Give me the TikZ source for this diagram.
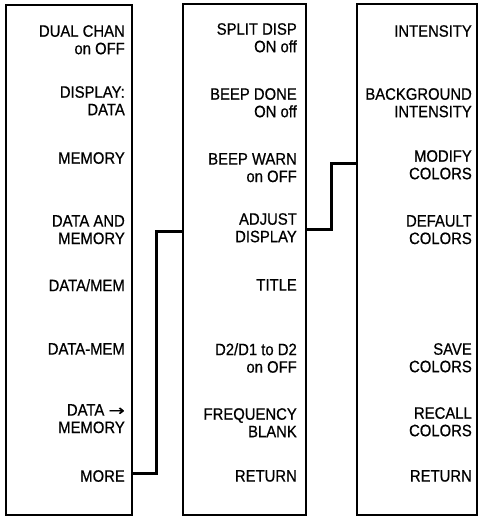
\documentclass[tikz,border=0pt]{standalone}
\usepackage{fontspec}
\setmainfont{Liberation Sans}[FakeStretch=0.9,FakeBold=0.6]
\newfontfamily\arrowfont{DejaVu Sans}[FakeStretch=1.3,FakeBold=0.3]
\begin{document}
\begin{tikzpicture}[x=1pt,y=-1pt,
  menubox/.style={draw=black,line width=2.6pt,inner sep=0pt,fill=white},
  item/.style={anchor=north east,align=right,inner sep=0pt,
    font=\fontsize{16.5}{17.5}\selectfont},
  conn/.style={draw=black,line width=3pt,line join=miter}]
\useasboundingbox (0,0) rectangle (481,518);
\node[menubox,minimum width=126pt,minimum height=510pt] (b1) at (69,260) {};
\node[menubox,minimum width=123pt,minimum height=511pt] (b2) at (244.5,259.5) {};
\node[menubox,minimum width=120pt,minimum height=511pt] (b3) at (417,259.5) {};
% column 1
\node[item] (dual) at (125,25) {DUAL CHAN\\on OFF};
\node[item] (disp) at (125,86) {DISPLAY:\\DATA};
\node[item] (mem) at (125,152) {MEMORY};
\node[item] (dam) at (125,215) {DATA AND\\MEMORY};
\node[item] (dslm) at (125,279) {DATA/MEM};
\node[item] (ddm) at (125,343) {DATA-MEM};
\node[item] (dtm) at (125,404) {DATA {\arrowfont\fontsize{15}{17.5}\selectfont →}\\MEMORY};
\node[item] (more) at (125,470) {MORE};
% column 2
\node[item] (split) at (297,23) {SPLIT DISP\\ON off};
\node[item] (bdone) at (297,88) {BEEP DONE\\ON off};
\node[item] (bwarn) at (297,153) {BEEP WARN\\on OFF};
\node[item] (adj) at (297,213) {ADJUST\\DISPLAY};
\node[item] (title) at (297,279) {TITLE};
\node[item] (d2d1) at (297,343) {D2/D1 to D2\\on OFF};
\node[item] (freq) at (297,408) {FREQUENCY\\BLANK};
\node[item] (ret2) at (297,470) {RETURN};
% column 3
\node[item] (inten) at (472,25) {INTENSITY};
\node[item] (bgint) at (472,88) {BACKGROUND\\INTENSITY};
\node[item] (modc) at (472,150) {MODIFY\\COLORS};
\node[item] (defc) at (472,215) {DEFAULT\\COLORS};
\node[item] (savec) at (472,343) {SAVE\\COLORS};
\node[item] (recc) at (472,407) {RECALL\\COLORS};
\node[item] (ret3) at (472,470) {RETURN};
% connectors
\coordinate (k1) at (156,473);
\coordinate (k2) at (156,231);
\draw[conn] (b1.east |- k1) -- (k1) -- (k2) -- (b2.west |- k2);
\coordinate (k3) at (331,229);
\coordinate (k4) at (331,164);
\draw[conn] (b2.east |- k3) -- (k3) -- (k4) -- (b3.west |- k4);
\end{tikzpicture}
\end{document}
